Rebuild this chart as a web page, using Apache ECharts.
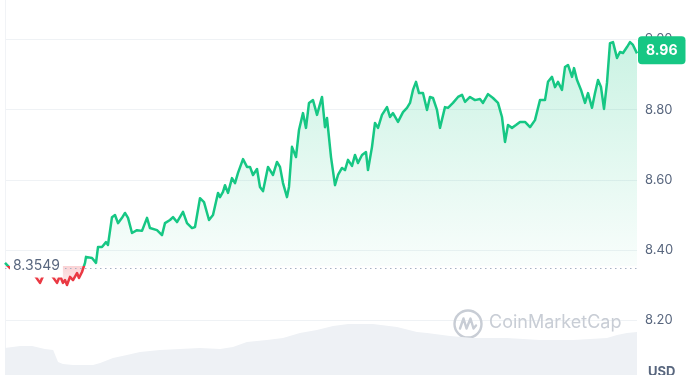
<!DOCTYPE html>
<html>
<head>
<meta charset="utf-8">
<script src="https://cdn.jsdelivr.net/npm/echarts@6/dist/echarts.min.js"></script>
<style>
html,body{margin:0;padding:0;background:#fff;}
#chart{width:700px;height:375px;}
</style>
</head>
<body>
<div id="chart"></div>
<script>
// ---- data ----
const baselinePrice = 8.3549;
const currentPrice = 8.96;
// hours since start of the 7-day window
const hours = [0,1.33,2.66,3.99,5.32,6.65,7.97,9.30,10.37,11.43,12.49,13.82,14.62,15.42,15.95,16.48,17.28,18.08,19.14,19.67,20.47,21.27,21.53,22.06,23.13,24.19,24.72,25.78,26.85,27.38,28.44,29.24,30.04,31.10,31.90,32.70,33.76,35.09,36.42,37.75,38.54,40.40,41.73,42.53,43.86,44.66,45.72,47.32,48.38,49.71,50.51,51.83,52.90,54.23,55.29,56.62,57.15,57.95,58.48,59.28,60.34,61.14,61.94,63.27,64.33,65.13,65.92,66.99,67.78,68.58,69.91,71.24,72.30,73.10,73.90,74.96,75.49,76.29,77.35,78.15,79.21,80.01,80.81,81.87,82.40,82.94,84.27,85.06,85.60,86.66,87.72,88.52,89.58,90.38,91.18,92.24,93.04,93.83,94.90,95.96,96.49,97.56,98.35,99.15,100.21,101.54,102.34,103.14,104.47,105.80,106.86,107.66,108.45,109.25,110.05,111.11,112.18,112.97,113.77,114.83,115.63,116.96,117.76,119.09,120.42,121.48,122.28,123.61,124.94,126.26,127.06,128.39,129.72,131.05,132.11,132.91,133.71,134.77,135.83,136.90,138.23,139.56,140.88,142.21,143.54,144.34,145.40,146.20,147.00,148.06,148.86,149.66,150.72,151.26,152.06,153.12,154.18,154.98,156.04,156.84,157.64,158.43,159.23,160.02,160.82,161.62,162.68,163.48,164.28,165.34,166.14,166.93,168];
const prices = [8.364,8.349,8.338,8.355,8.332,8.344,8.327,8.307,8.332,8.344,8.327,8.307,8.327,8.307,8.315,8.301,8.324,8.315,8.335,8.321,8.338,8.364,8.381,8.383,8.378,8.364,8.409,8.409,8.423,8.415,8.494,8.500,8.477,8.492,8.506,8.492,8.449,8.457,8.455,8.492,8.463,8.457,8.443,8.477,8.486,8.494,8.480,8.509,8.477,8.463,8.466,8.548,8.537,8.486,8.500,8.563,8.551,8.566,8.585,8.563,8.605,8.591,8.620,8.659,8.637,8.637,8.614,8.631,8.580,8.568,8.637,8.614,8.651,8.637,8.591,8.551,8.580,8.694,8.665,8.742,8.790,8.748,8.819,8.827,8.822,8.785,8.836,8.750,8.776,8.665,8.585,8.614,8.634,8.628,8.657,8.640,8.671,8.648,8.671,8.679,8.628,8.694,8.762,8.748,8.785,8.807,8.779,8.790,8.765,8.793,8.805,8.819,8.856,8.879,8.847,8.847,8.799,8.836,8.833,8.799,8.748,8.807,8.805,8.819,8.836,8.842,8.822,8.836,8.827,8.830,8.819,8.844,8.833,8.819,8.779,8.708,8.756,8.748,8.756,8.765,8.765,8.750,8.770,8.827,8.827,8.879,8.893,8.864,8.879,8.856,8.921,8.927,8.893,8.918,8.884,8.856,8.819,8.847,8.805,8.847,8.884,8.864,8.802,8.876,8.989,8.992,8.947,8.964,8.961,8.978,8.992,8.984,8.960];
const volumeHours = [0,4.0,7.2,10.6,12.8,14.1,15.4,18.1,23.4,25.3,28.7,32.4,35.9,41.2,46.5,51.8,57.2,60.6,64.3,69.6,73.9,78.4,82.9,87.2,91.2,97.8,104.2,109.5,112.2,118.3,124.4,133.4,142.2,151.0,160.0,162.7,165.3,168];
const volumes = [27,29,29,26,25,13,11,10,10,12,17,20,23,25,26,27,26,28,33,35,37,42,45,49,51,51,48,43,42,39,37,37,35,35,37,40,42,43];
const priceTicks = {min: 8.0, max: 9.0, interval: 0.2};
const currency = 'USD';
const watermark = 'CoinMarketCap';

// ---- derived tables ----
const priceData = hours.map((h, i) => [h, prices[i]]);
const upData = hours.map((h, i) => [h, Math.max(prices[i], baselinePrice)]);
const downData = hours.map((h, i) => [h, Math.min(prices[i], baselinePrice)]);
const volumeData = volumeHours.map((h, i) => [h, volumes[i]]);

const GREEN = '#16c784', RED = '#ea3943';
const FONT = 'Inter, "Noto Sans", sans-serif';

const chart = echarts.init(document.getElementById('chart'), null, {renderer: 'canvas'});
chart.setOption({
  animation: false,
  backgroundColor: '#ffffff',
  grid: [
    {left: 5, right: 63, top: 39.3, height: 351.5, outerBoundsMode: 'none', containLabel: false},
    {left: 5, right: 63, top: 300, bottom: 0, outerBoundsMode: 'none', containLabel: false}
  ],
  xAxis: [
    {type: 'value', gridIndex: 0, min: 0, max: 168, show: false},
    {type: 'value', gridIndex: 1, min: 0, max: 168, show: false}
  ],
  yAxis: [
    {
      type: 'value', gridIndex: 0, position: 'right',
      min: priceTicks.min, max: priceTicks.max, interval: priceTicks.interval,
      axisLine: {show: false}, axisTick: {show: false},
      axisLabel: {margin: 8, color: '#58667e', fontSize: 13, fontFamily: FONT,
        formatter: v => v.toFixed(2)},
      splitLine: {lineStyle: {color: '#eff2f5', width: 1}}
    },
    {type: 'value', gridIndex: 1, min: 0, max: 75, show: false, splitLine: {show: false}}
  ],
  series: [
    {
      id: 'price',
      type: 'line', xAxisIndex: 0, yAxisIndex: 0, data: priceData,
      showSymbol: false, symbol: 'none', z: 5,
      lineStyle: {width: 2.5, color: GREEN, join: 'round'},
      endLabel: {
        show: true, distance: 1, offset: [0, -3], formatter: () => currentPrice.toFixed(2),
        color: '#fff', backgroundColor: GREEN, borderRadius: 4,
        padding: [7, 8], fontSize: 14, fontWeight: 'bold', fontFamily: FONT
      },
      markLine: {
        silent: true, symbol: 'none',
        label: {show: false},
        lineStyle: {color: '#a6b0c3', type: [1.5, 3.5], width: 1},
        data: [{yAxis: baselinePrice}]
      }
    },
    {
      type: 'line', xAxisIndex: 0, yAxisIndex: 0, data: upData,
      showSymbol: false, symbol: 'none', silent: true, z: 2,
      lineStyle: {width: 0, opacity: 0},
      areaStyle: {
        origin: baselinePrice,
        color: {type: 'linear', x: 0, y: 0, x2: 0, y2: 1, colorStops: [
          {offset: 0, color: 'rgba(22,199,132,0.32)'},
          {offset: 1, color: 'rgba(22,199,132,0.04)'}
        ]}
      }
    },
    {
      type: 'line', xAxisIndex: 0, yAxisIndex: 0, data: downData,
      showSymbol: false, symbol: 'none', silent: true, z: 2,
      lineStyle: {width: 0, opacity: 0},
      areaStyle: {
        origin: baselinePrice,
        color: {type: 'linear', x: 0, y: 0, x2: 0, y2: 1, colorStops: [
          {offset: 0, color: 'rgba(234,57,67,0.32)'},
          {offset: 1, color: 'rgba(234,57,67,0.12)'}
        ]}
      }
    },
    {
      type: 'line', xAxisIndex: 1, yAxisIndex: 1, data: volumeData,
      showSymbol: false, symbol: 'none', silent: true, z: 1,
      lineStyle: {width: 0, opacity: 0},
      areaStyle: {color: '#eef1f5', opacity: 1}
    }
  ]
});

const by = chart.convertToPixel({gridIndex: 0}, [0, baselinePrice])[1];
const H = chart.getHeight();
const cut = by / H;
chart.setOption({
  series: [{
    id: 'price',
    lineStyle: {color: {type: 'linear', x: 0, y: 0, x2: 0, y2: H, global: true, colorStops: [
      {offset: 0, color: GREEN}, {offset: cut, color: GREEN},
      {offset: cut, color: RED}, {offset: 1, color: RED}
    ]}}
  }],
  graphic: [
    {type: 'line', shape: {x1: 5.5, y1: 0, x2: 5.5, y2: 375}, style: {stroke: '#f1f3f6', lineWidth: 1}, z: 0, silent: true},
    {type: 'text', left: 10, top: by - 12.5, z: 20,
      style: {text: baselinePrice.toString(), fill: '#58667e', font: '14px ' + FONT,
        backgroundColor: '#ffffff', padding: [5, 3, 5, 3]}},
    {type: 'text', left: 648, top: 366, z: 20,
      style: {text: currency, fill: '#58667e', font: 'bold 13px ' + FONT}},
    {type: 'group', left: 452, top: 308, z: 20, silent: true, children: [
      {type: 'circle', shape: {cx: 15, cy: 15, r: 13.5}, style: {fill: 'none', stroke: '#c8cdd5', lineWidth: 2.4}},
      {type: 'polyline', shape: {points: [[7, 19.5], [10.5, 9.5], [13.5, 19.5], [17.5, 9.5], [20.5, 19.5], [23, 16.5]]},
        style: {fill: 'none', stroke: '#c8cdd5', lineWidth: 2.4, lineJoin: 'round', lineCap: 'round'}},
      {type: 'text', left: 36, top: 5, style: {text: watermark, fill: '#c8cdd5', font: '18px ' + FONT}}
    ]}
  ]
});
</script>
</body>
</html>
